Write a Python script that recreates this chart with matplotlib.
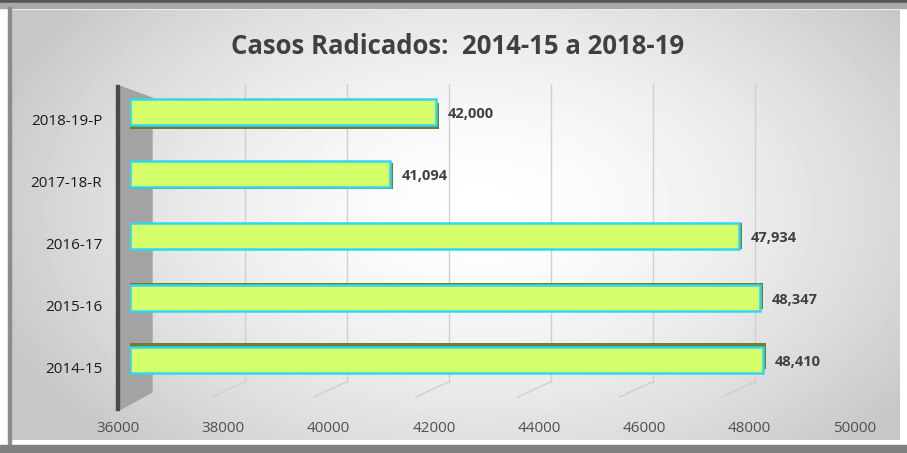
import matplotlib.pyplot as plt
import matplotlib.patches as mpatches
import matplotlib.transforms as mtransforms
import numpy as np

# -----------------------------
# Data
# -----------------------------
categories = ["2014-15", "2015-16", "2016-17", "2017-18-R", "2018-19-P"]
casos = [48410, 48347, 47934, 41094, 42000]
value_labels = ["48,410", "48,347", "47,934", "41,094", "42,000"]
x_ticks = [36000, 38000, 40000, 42000, 44000, 46000, 48000, 50000]
title = "Casos Radicados:  2014-15 a 2018-19"

W, H = 907, 453
fig = plt.figure(figsize=(W / 100, H / 100), dpi=100)
fig.patch.set_facecolor("white")

# -----------------------------
# Background (frame + radial gradient)
# -----------------------------
bg = fig.add_axes([0, 0, 1, 1])
bg.set_xlim(0, W)
bg.set_ylim(H, 0)
bg.axis("off")

yy, xx = np.mgrid[0:430, 0:888]
r = np.sqrt(((xx - 470) / 520.0) ** 2 + ((yy - 200) / 330.0) ** 2)
grad = 1.0 - 0.22 * np.clip(r, 0, 1) ** 1.6
bg.imshow(grad, cmap="gray", vmin=0, vmax=1, extent=[12, 900, 440, 10],
          aspect="auto", zorder=0)

# frame lines
bg.add_patch(mpatches.Rectangle((0, 0), W, 2.5, color="#555555", zorder=1))
bg.add_patch(mpatches.Rectangle((0, 2.5), W, 5, color="#a8a8a8", zorder=1))
bg.add_patch(mpatches.Rectangle((8, 7), 3, 440, color="#8c8c8c", zorder=1))
bg.add_patch(mpatches.Rectangle((0, 445), W, 8, color="#7f7f7f", zorder=1))

# left wall of the 3D chart
bg.add_patch(mpatches.Polygon([(119, 86), (152, 98), (152, 392), (119, 410)],
                              closed=True, color="#a3a3a3", zorder=2))
bg.add_patch(mpatches.Rectangle((115.5, 85), 3.5, 325, color="#4a4a4a", zorder=3))

bg.text(458, 46, title, ha="center", va="center", fontsize=18.5,
        fontweight="bold", color="#404040", family="Open Sans")

# -----------------------------
# Bar chart
# -----------------------------
ax = fig.add_axes([130 / W, (H - 395) / H, 714 / W, 315 / H])
ax.patch.set_alpha(0)
ypos = np.arange(len(categories))

ax.set_xlim(36000, 50000)
ax.set_ylim(-0.565, 4.516)

for xv in x_ticks[1:]:
    ax.plot([xv + 250, xv + 250], [-0.35, 4.45], color="#d0d0d0", lw=1, zorder=1)
    ax.plot([xv + 250, xv - 400], [-0.35, -0.6], color="#d0d0d0", lw=1, zorder=1,
            clip_on=False)

# depth / shadow of the bars
depth = [(i - 2) * -0.035 for i in ypos]
ax.barh(ypos + np.array(depth), np.array(casos) - 36000 + 60, left=36000,
        height=0.42, color="#6d7f2c", zorder=2)
ax.barh(ypos, np.array(casos) - 36000, left=36000, height=0.42,
        color="#d4ff6a", edgecolor="#33d6f0", linewidth=1.8, zorder=3)

for y, v, lab in zip(ypos, casos, value_labels):
    ax.text(v + 230, y - 0.04, lab, ha="left", va="center", fontsize=10.5,
            fontweight="bold", color="#404040", family="Open Sans")

ax.set_yticks(ypos)
ax.set_yticklabels(categories, fontsize=11, family="Open Sans", color="#1a1a1a")
ax.tick_params(axis="y", length=0, pad=20)
shift = mtransforms.ScaledTranslation(0, -8 / 100, fig.dpi_scale_trans)
for t in ax.get_yticklabels():
    t.set_transform(t.get_transform() + shift)
ax.set_xticks([])
for s in ax.spines.values():
    s.set_visible(False)

# tick labels sit on the front edge of the 3D floor (slightly wider)
tx = fig.add_axes([118 / W, (H - 395) / H, 737 / W, 0.001])
tx.patch.set_alpha(0)
tx.set_xlim(36000, 50000)
tx.set_yticks([])
tx.set_xticks(x_ticks)
tx.set_xticklabels([str(t) for t in x_ticks], fontsize=11, family="Open Sans",
                   color="#505050")
tx.tick_params(axis="x", length=0, pad=19)
for s in tx.spines.values():
    s.set_visible(False)

fig.savefig("out.png", dpi=100)
